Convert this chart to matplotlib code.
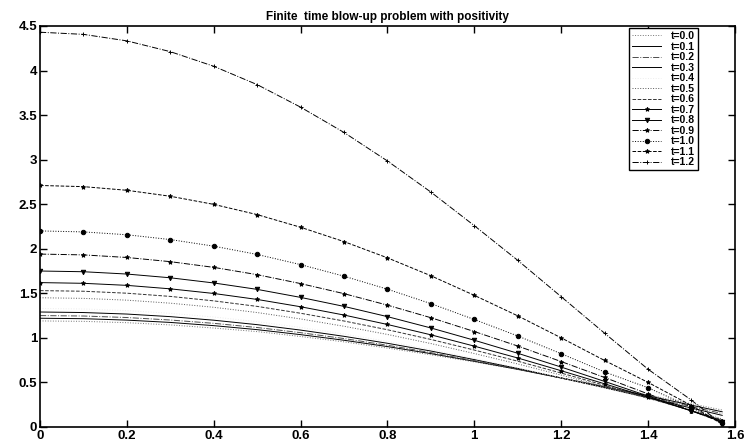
import matplotlib
matplotlib.use("Agg")
import matplotlib.pyplot as plt
from matplotlib.ticker import FuncFormatter

plt.rcParams['font.family'] = ['Liberation Sans', 'DejaVu Sans']

x = [0.0, 0.1, 0.2, 0.3, 0.4, 0.5, 0.6, 0.7, 0.8, 0.9, 1.0, 1.1, 1.2, 1.3, 1.4, 1.5, 1.5708]

labels = ["t=0.0", "t=0.1", "t=0.2", "t=0.3", "t=0.4", "t=0.5", "t=0.6",
          "t=0.7", "t=0.8", "t=0.9", "t=1.0", "t=1.1", "t=1.2"]

u_t00 = [1.19, 1.185, 1.17, 1.145, 1.11, 1.07, 1.015, 0.955, 0.885, 0.81, 0.73, 0.645, 0.55, 0.455, 0.36, 0.26, 0.19]
u_t01 = [1.22, 1.215, 1.199, 1.173, 1.137, 1.092, 1.036, 0.973, 0.902, 0.823, 0.737, 0.647, 0.55, 0.45, 0.349, 0.244, 0.17]
u_t02 = [1.25, 1.245, 1.228, 1.20, 1.163, 1.116, 1.058, 0.992, 0.917, 0.834, 0.744, 0.649, 0.548, 0.444, 0.337, 0.228, 0.15]
u_t03 = [1.29, 1.284, 1.267, 1.238, 1.198, 1.148, 1.087, 1.017, 0.939, 0.852, 0.756, 0.657, 0.55, 0.44, 0.327, 0.212, 0.13]
u_t04 = [1.33, 1.324, 1.306, 1.275, 1.234, 1.181, 1.117, 1.043, 0.96, 0.869, 0.769, 0.664, 0.552, 0.436, 0.317, 0.196, 0.11]
u_t05 = [1.45, 1.443, 1.423, 1.389, 1.343, 1.284, 1.212, 1.13, 1.038, 0.936, 0.824, 0.707, 0.582, 0.453, 0.321, 0.186, 0.09]
u_t06 = [1.53, 1.523, 1.501, 1.465, 1.415, 1.353, 1.276, 1.189, 1.091, 0.982, 0.863, 0.738, 0.605, 0.467, 0.327, 0.183, 0.08]
u_t07 = [1.62, 1.612, 1.589, 1.55, 1.498, 1.431, 1.349, 1.256, 1.15, 1.034, 0.907, 0.774, 0.631, 0.484, 0.334, 0.18, 0.07]
u_t08 = [1.75, 1.742, 1.716, 1.674, 1.616, 1.544, 1.454, 1.353, 1.238, 1.111, 0.973, 0.827, 0.672, 0.511, 0.347, 0.179, 0.06]
u_t09 = [1.94, 1.931, 1.902, 1.855, 1.791, 1.709, 1.609, 1.496, 1.367, 1.226, 1.071, 0.908, 0.734, 0.555, 0.371, 0.184, 0.05]
u_t10 = [2.20, 2.189, 2.157, 2.103, 2.029, 1.936, 1.822, 1.692, 1.546, 1.384, 1.206, 1.021, 0.822, 0.617, 0.44, 0.22, 0.04]
u_t11 = [2.71, 2.697, 2.656, 2.589, 2.498, 2.383, 2.241, 2.08, 1.898, 1.697, 1.477, 1.247, 1.0, 0.746, 0.50, 0.24, 0.03]
u_t12 = [4.43, 4.406, 4.333, 4.212, 4.048, 3.842, 3.589, 3.305, 2.985, 2.636, 2.259, 1.870, 1.462, 1.052, 0.648, 0.30, 0.03]

series = [u_t00, u_t01, u_t02, u_t03, u_t04, u_t05, u_t06,
          u_t07, u_t08, u_t09, u_t10, u_t11, u_t12]

styles = [
    dict(ls=':', color='0.45', marker=None),
    dict(ls='-', color='k', marker=None),
    dict(ls='-.', color='0.3', marker=None),
    dict(ls='-', color='k', marker=None),
    dict(ls=':', color='0.93', marker=None),
    dict(ls=':', color='0.35', marker=None),
    dict(ls='--', color='0.2', marker=None),
    dict(ls='-', color='k', marker='*'),
    dict(ls='-', color='k', marker='v'),
    dict(ls='-.', color='k', marker='*'),
    dict(ls=':', color='k', marker='o'),
    dict(ls='--', color='k', marker='*'),
    dict(ls='-.', color='k', marker='+'),
]

fig = plt.figure(figsize=(7.46, 4.48), dpi=100)
ax = fig.add_axes([0.0536, 0.047, 0.9315, 0.895])

for y, lab, st in zip(series, labels, styles):
    ax.plot(x, y, linestyle=st['ls'], color=st['color'], marker=st['marker'],
            markersize=3.2, markerfacecolor='k', markeredgecolor='k',
            markeredgewidth=0.7, linewidth=0.7, label=lab)

ax.set_xlim(0, 1.6)
ax.set_ylim(0, 4.5)
ax.set_xticks([0, 0.2, 0.4, 0.6, 0.8, 1.0, 1.2, 1.4, 1.6])
ax.set_yticks([0, 0.5, 1, 1.5, 2, 2.5, 3, 3.5, 4, 4.5])
fmt = FuncFormatter(lambda v, p: ('%g' % round(v, 2)))
ax.xaxis.set_major_formatter(fmt)
ax.yaxis.set_major_formatter(fmt)
ax.tick_params(direction='in', top=True, right=True, length=5, width=1,
               labelsize=9.5, pad=2)
for lbl in ax.get_xticklabels() + ax.get_yticklabels():
    lbl.set_fontweight('bold')
for sp in ax.spines.values():
    sp.set_linewidth(1.2)

ax.set_title("Finite  time blow-up problem with positivity", fontsize=8.5,
             fontweight='bold', pad=4)

leg = ax.legend(loc='upper right', bbox_to_anchor=(0.947, 0.995), fontsize=7.5,
                frameon=True, fancybox=False, edgecolor='k', framealpha=1,
                handlelength=2.8, labelspacing=0.05, borderpad=0.3,
                handletextpad=0.9, borderaxespad=0)
leg.get_frame().set_linewidth(1.0)
for t in leg.get_texts():
    t.set_fontweight('bold')

fig.savefig("out.png", dpi=100)
